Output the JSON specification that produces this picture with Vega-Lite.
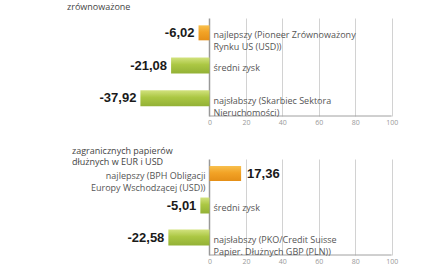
{
  "$schema": "https://vega.github.io/schema/vega-lite/v6.json",
  "padding": {"left": 0, "right": 0, "top": 3, "bottom": 0},
  "spacing": 22,
  "background": "white",
  "config": {
    "view": {"stroke": null},
    "locale": {"number": {"decimal": ",", "thousands": " ", "grouping": [3], "currency": ["", " zł"], "minus": "-"}},
    "title": {"font": "Open Sans", "fontSize": 9, "fontWeight": "normal", "color": "#444"}
  },
  "datasets": {
    "top": [
      {"cat": "najlepszy", "label": "najlepszy (Pioneer Zrównoważony\nRynku US (USD))", "value": -6.02, "kind": "best"},
      {"cat": "średni", "label": "średni zysk", "value": -21.08, "kind": "avg"},
      {"cat": "najsłabszy", "label": "najsłabszy (Skarbiec Sektora\nNieruchomości)", "value": -37.92, "kind": "worst"}
    ],
    "bottom": [
      {"cat": "najlepszy", "label": "najlepszy (BPH Obligacji\nEuropy Wschodzącej (USD))", "value": 17.36, "kind": "best"},
      {"cat": "średni", "label": "średni zysk", "value": -5.01, "kind": "avg"},
      {"cat": "najsłabszy", "label": "najsłabszy (PKO/Credit Suisse\nPapier. Dłużnych GBP (PLN))", "value": -22.58, "kind": "worst"}
    ]
  },
  "vconcat": [
    {
      "width": 439,
      "height": 98,
      "title": {"text": "zrównoważone", "anchor": "start", "dx": 67, "offset": 6},
      "data": {"name": "top"},
      "layer": [
        {
          "mark": {"type": "bar", "size": 16, "yOffset": -1.5, "color": {"gradient": "linear", "x1": 0, "y1": 0, "x2": 0, "y2": 1, "stops": [{"offset": 0, "color": "#d2e27e"}, {"offset": 0.45, "color": "#abc743"}, {"offset": 1, "color": "#93b136"}]}},
          "transform": [{"filter": "datum.kind !== 'best'"}],
          "encoding": {
            "y": {"field": "cat", "type": "nominal", "sort": ["najlepszy", "średni", "najsłabszy"], "axis": null, "scale": {"domain": ["najlepszy", "średni", "najsłabszy"], "paddingInner": 0, "paddingOuter": 0}},
            "x": {"field": "value", "type": "quantitative", "scale": {"domain": [-115, 126], "nice": false, "zero": true},
              "axis": {"values": [0, 20, 40, 60, 80, 100], "domain": false, "ticks": false, "title": null, "labelFont": "Open Sans", "labelFontSize": 7, "labelColor": "#999", "labelPadding": 2, "grid": true, "gridColor": {"condition": {"test": "datum.value === 0", "value": "#999999"}, "value": "#d2d2d2"}, "gridWidth": {"condition": {"test": "datum.value === 0", "value": 1.5}, "value": 1}}}
          }
        },
        {
          "mark": {"type": "bar", "size": 15, "yOffset": -1.5, "color": {"gradient": "linear", "x1": 0, "y1": 0, "x2": 0, "y2": 1, "stops": [{"offset": 0, "color": "#f8c04e"}, {"offset": 0.45, "color": "#f2a326"}, {"offset": 1, "color": "#e58f17"}]}},
          "transform": [{"filter": "datum.kind === 'best'"}],
          "encoding": {
            "y": {"field": "cat", "type": "nominal", "sort": ["najlepszy", "średni", "najsłabszy"]},
            "x": {"field": "value", "type": "quantitative"}
          }
        },
        {
          "data": {"values": [{}]},
          "mark": {"type": "rule", "color": "#a0a0a0", "strokeWidth": 1},
          "encoding": {
            "x": {"datum": 0, "type": "quantitative"},
            "x2": {"datum": 100},
            "y": {"datum": "najsłabszy", "type": "nominal", "bandPosition": 1}
          }
        },
        {
          "mark": {"type": "text", "align": "right", "baseline": "middle", "dx": -4, "dy": -1.5, "font": "Liberation Sans", "fontWeight": "bold", "fontSize": 13, "color": "#1a1a1a"},
          "transform": [{"filter": "datum.value < 0"}],
          "encoding": {
            "y": {"field": "cat", "type": "nominal", "sort": ["najlepszy", "średni", "najsłabszy"]},
            "x": {"field": "value", "type": "quantitative"},
            "text": {"field": "value", "type": "quantitative", "format": ".2f"}
          }
        },
        {
          "mark": {"type": "text", "align": "left", "baseline": "middle", "dx": 4, "dy": 1, "font": "Open Sans", "fontSize": 9, "color": "#555", "lineBreak": "\n", "lineHeight": 12},
          "transform": [{"filter": "datum.value < 0"}],
          "encoding": {
            "y": {"field": "cat", "type": "nominal", "sort": ["najlepszy", "średni", "najsłabszy"]},
            "x": {"datum": 0, "type": "quantitative"},
            "text": {"field": "label"}
          }
        }
      ]
    },
    {
      "width": 439,
      "height": 96,
      "title": {"text": ["zagranicznych papierów", "dłużnych w EUR i USD"], "anchor": "start", "dx": 72, "offset": -8, "lineHeight": 11},
      "data": {"name": "bottom"},
      "layer": [
        {
          "mark": {"type": "bar", "size": 16, "yOffset": -1.5, "color": {"gradient": "linear", "x1": 0, "y1": 0, "x2": 0, "y2": 1, "stops": [{"offset": 0, "color": "#d2e27e"}, {"offset": 0.45, "color": "#abc743"}, {"offset": 1, "color": "#93b136"}]}},
          "transform": [{"filter": "datum.kind !== 'best'"}],
          "encoding": {
            "y": {"field": "cat", "type": "nominal", "sort": ["najlepszy", "średni", "najsłabszy"], "axis": null, "scale": {"domain": ["najlepszy", "średni", "najsłabszy"], "paddingInner": 0, "paddingOuter": 0}},
            "x": {"field": "value", "type": "quantitative", "scale": {"domain": [-115, 126], "nice": false, "zero": true},
              "axis": {"values": [0, 20, 40, 60, 80, 100], "domain": false, "ticks": false, "title": null, "labelFont": "Open Sans", "labelFontSize": 7, "labelColor": "#999", "labelPadding": 2, "grid": true, "gridColor": {"condition": {"test": "datum.value === 0", "value": "#999999"}, "value": "#d2d2d2"}, "gridWidth": {"condition": {"test": "datum.value === 0", "value": 1.5}, "value": 1}}}
          }
        },
        {
          "mark": {"type": "bar", "size": 15, "yOffset": -1.5, "color": {"gradient": "linear", "x1": 0, "y1": 0, "x2": 0, "y2": 1, "stops": [{"offset": 0, "color": "#f8c04e"}, {"offset": 0.45, "color": "#f2a326"}, {"offset": 1, "color": "#e58f17"}]}},
          "transform": [{"filter": "datum.kind === 'best'"}],
          "encoding": {
            "y": {"field": "cat", "type": "nominal", "sort": ["najlepszy", "średni", "najsłabszy"]},
            "x": {"field": "value", "type": "quantitative"}
          }
        },
        {
          "data": {"values": [{}]},
          "mark": {"type": "rule", "color": "#a0a0a0", "strokeWidth": 1},
          "encoding": {
            "x": {"datum": 0, "type": "quantitative"},
            "x2": {"datum": 100},
            "y": {"datum": "najsłabszy", "type": "nominal", "bandPosition": 1}
          }
        },
        {
          "mark": {"type": "text", "align": "right", "baseline": "middle", "dx": -4, "dy": -1.5, "font": "Liberation Sans", "fontWeight": "bold", "fontSize": 13, "color": "#1a1a1a"},
          "transform": [{"filter": "datum.value < 0"}],
          "encoding": {
            "y": {"field": "cat", "type": "nominal", "sort": ["najlepszy", "średni", "najsłabszy"]},
            "x": {"field": "value", "type": "quantitative"},
            "text": {"field": "value", "type": "quantitative", "format": ".2f"}
          }
        },
        {
          "mark": {"type": "text", "align": "left", "baseline": "middle", "dx": 6, "dy": -1.5, "font": "Liberation Sans", "fontWeight": "bold", "fontSize": 13, "color": "#1a1a1a"},
          "transform": [{"filter": "datum.value >= 0"}],
          "encoding": {
            "y": {"field": "cat", "type": "nominal", "sort": ["najlepszy", "średni", "najsłabszy"]},
            "x": {"field": "value", "type": "quantitative"},
            "text": {"field": "value", "type": "quantitative", "format": ".2f"}
          }
        },
        {
          "mark": {"type": "text", "align": "left", "baseline": "middle", "dx": 4, "dy": 1, "font": "Open Sans", "fontSize": 9, "color": "#555", "lineBreak": "\n", "lineHeight": 12},
          "transform": [{"filter": "datum.value < 0"}],
          "encoding": {
            "y": {"field": "cat", "type": "nominal", "sort": ["najlepszy", "średni", "najsłabszy"]},
            "x": {"datum": 0, "type": "quantitative"},
            "text": {"field": "label"}
          }
        },
        {
          "mark": {"type": "text", "align": "right", "baseline": "middle", "dx": -4, "dy": 1, "font": "Open Sans", "fontSize": 9, "color": "#555", "lineBreak": "\n", "lineHeight": 12},
          "transform": [{"filter": "datum.value >= 0"}],
          "encoding": {
            "y": {"field": "cat", "type": "nominal", "sort": ["najlepszy", "średni", "najsłabszy"]},
            "x": {"datum": 0, "type": "quantitative"},
            "text": {"field": "label"}
          }
        }
      ]
    }
  ]
}
